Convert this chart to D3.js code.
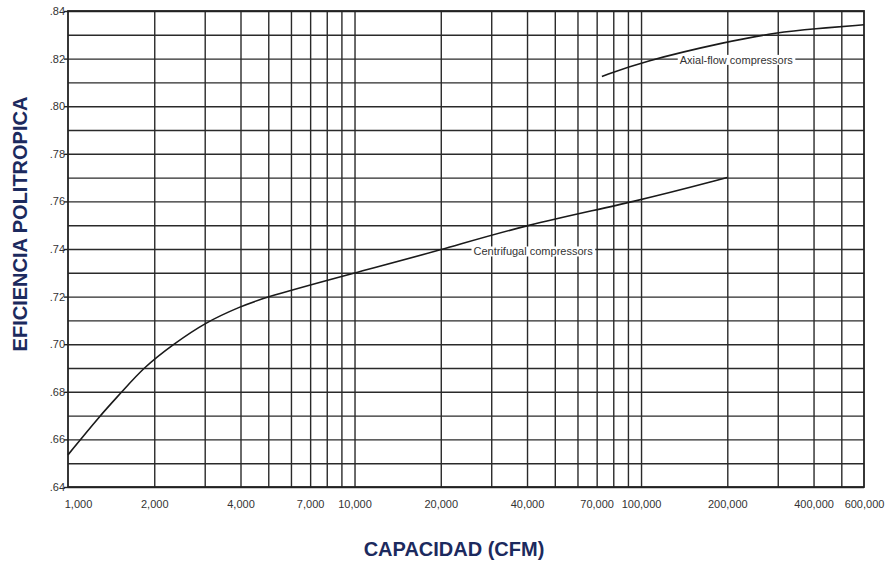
<!DOCTYPE html>
<html lang="es">
<head>
    <meta charset="UTF-8" />
    <title>Eficiencia politropica vs capacidad</title>
    <script src="https://d3js.org/d3.v7.min.js"></script>
    <style>
        body { margin: 0; background: #fff; }
        .tick text { font-family: "Liberation Sans", Arial, sans-serif; font-size: 11px; fill: #333; }
        .grid line { stroke: #2a2a2a; stroke-width: 1.4; }
        .grid path { display: none; }
        .axis-title { font-family: "Liberation Sans", Arial, sans-serif; font-weight: bold; font-size: 20px; fill: #1c2a5e; }
        .curve-label { font-family: "Liberation Sans", Arial, sans-serif; font-size: 11px; fill: #333; }
    </style>
</head>
<body>
<svg id="chart" width="891" height="567"></svg>
<script>
    // Datos
    const centrifugalCfm = [1000, 1293, 1544, 1827, 2330, 3050, 4000, 4800, 10000, 20000, 39000, 97000, 200000];
    const centrifugalEff = [0.6535, 0.670, 0.680, 0.690, 0.700, 0.7095, 0.7158, 0.7195, 0.730, 0.7395, 0.750, 0.760, 0.770];
    const axialCfm = [73000, 100000, 200000, 300000, 400000, 600000];
    const axialEff = [0.8125, 0.8186, 0.8272, 0.831, 0.8325, 0.8342];

    const xTickValues = [1000, 2000, 4000, 7000, 10000, 20000, 40000, 70000, 100000, 200000, 400000, 600000];
    const xTickLabels = ["1,000", "2,000", "4,000", "7,000", "10,000", "20,000", "40,000", "70,000", "100,000", "200,000", "400,000", "600,000"];
    const xGridValues = [2000, 3000, 4000, 5000, 6000, 7000, 8000, 9000, 10000, 20000, 30000, 40000, 50000, 60000, 70000, 80000, 90000, 100000, 200000, 300000, 400000, 500000];
    const yTickValues = [0.64, 0.66, 0.68, 0.70, 0.72, 0.74, 0.76, 0.78, 0.80, 0.82, 0.84];
    const yGridValues = d3.range(64, 85).map(v => v / 100);

    const margin = { top: 11, right: 27, bottom: 80, left: 68 };
    const width = 891 - margin.left - margin.right;
    const height = 567 - margin.top - margin.bottom;

    const svg = d3.select("#chart")
        .append("g")
        .attr("transform", `translate(${margin.left},${margin.top})`);

    const x = d3.scaleLog().domain([1000, 600000]).range([0, width]);
    const y = d3.scaleLinear().domain([0.64, 0.84]).range([height, 0]);

    // rejilla horizontal
    svg.append("g")
        .attr("class", "grid")
        .call(d3.axisLeft(y).tickValues(yGridValues).tickSize(-width).tickFormat(""));

    // rejilla vertical
    svg.append("g")
        .attr("class", "grid")
        .attr("transform", `translate(0,${height})`)
        .call(d3.axisBottom(x).tickValues(xGridValues).tickSize(-height).tickFormat(""));

    // marco
    svg.append("rect")
        .attr("width", width)
        .attr("height", height)
        .attr("fill", "none")
        .attr("stroke", "#222")
        .attr("stroke-width", 1.8);

    // eje x
    const xAxis = svg.append("g")
        .attr("transform", `translate(0,${height})`)
        .call(d3.axisBottom(x).tickValues(xTickValues).tickSize(0).tickPadding(13)
            .tickFormat((d, i) => xTickLabels[i]));
    xAxis.select(".domain").remove();
    xAxis.selectAll(".tick text").attr("dx", (d, i) => i === 0 ? 10 : 0);

    // eje y
    const yAxis = svg.append("g")
        .call(d3.axisLeft(y).tickValues(yTickValues).tickSize(4).tickPadding(-1)
            .tickFormat(d => "." + Math.round(d * 100)));
    yAxis.select(".domain").remove();
    yAxis.selectAll(".tick line").attr("stroke", "#222").attr("stroke-width", 1.4);

    // curvas
    const line = d3.line()
        .x(d => x(d[0]))
        .y(d => y(d[1]))
        .curve(d3.curveBasis);

    const centrifugal = centrifugalCfm.map((c, i) => [c, centrifugalEff[i]]);
    const axial = axialCfm.map((c, i) => [c, axialEff[i]]);

    [centrifugal, axial].forEach(data => {
        svg.append("path")
            .datum(data)
            .attr("d", line)
            .attr("fill", "none")
            .attr("stroke", "#1a1a1a")
            .attr("stroke-width", 1.6);
    });

    // etiquetas de curvas con fondo blanco
    function curveLabel(cfm, eff, text) {
        const t = svg.append("text")
            .attr("class", "curve-label")
            .attr("x", x(cfm))
            .attr("y", y(eff))
            .attr("text-anchor", "middle")
            .attr("dominant-baseline", "middle")
            .text(text);
        const bb = t.node().getBBox();
        svg.insert("rect", "text.curve-label:last-of-type")
            .attr("x", bb.x - 2)
            .attr("y", bb.y + 1)
            .attr("width", bb.width + 4)
            .attr("height", bb.height - 2)
            .attr("fill", "#fff");
        t.raise();
    }
    curveLabel(42000, 0.7385, "Centrifugal compressors");
    curveLabel(215000, 0.819, "Axial-flow compressors");

    // titulos de ejes
    svg.append("text")
        .attr("class", "axis-title")
        .attr("x", 386)
        .attr("y", height + 69)
        .attr("text-anchor", "middle")
        .text("CAPACIDAD (CFM)");

    svg.append("text")
        .attr("class", "axis-title")
        .attr("transform", `translate(${-41},${y(0.7505)}) rotate(-90)`)
        .attr("text-anchor", "middle")
        .text("EFICIENCIA POLITROPICA");
</script>
</body>
</html>
